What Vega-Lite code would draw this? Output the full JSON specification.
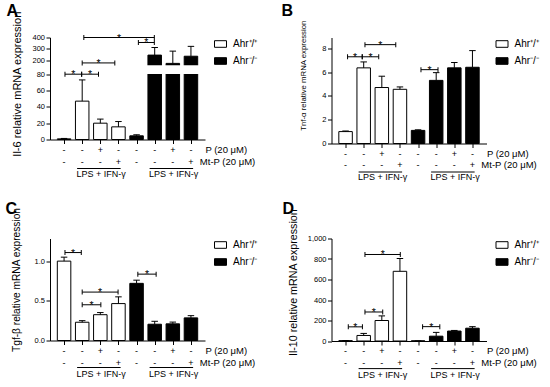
{
  "$schema": "https://vega.github.io/schema/vega-lite/v6.json",
  "padding": {"left": 5, "top": 2.5, "right": 5, "bottom": 5},
  "columns": 2,
  "spacing": {"row": 95, "column": 126.5},
  "bounds": "flush",
  "align": "all",
  "resolve": {"scale": {"fill": "independent", "x": "independent", "y": "independent"}, "legend": {"fill": "independent"}},
  "config": {
    "font": "Liberation Sans",
    "view": {"stroke": null},
    "axis": {"domainColor": "black", "tickColor": "black", "labelColor": "black", "titleColor": "black", "labelFontSize": 7.5, "tickSize": 4, "labelPadding": 1.5, "grid": false, "titleFontWeight": "normal", "labelOverlap": false, "domainWidth": 1, "tickWidth": 1, "tickCount": 10},
    "legend": {"orient": "right", "offset": 9, "padding": 0, "symbolType": "M-1,-0.55H1V0.55H-1Z", "symbolSize": 144, "symbolStrokeColor": "black", "symbolStrokeWidth": 1, "labelFontSize": 10, "labelOffset": 6, "rowPadding": 5, "labelColor": "black"},
    "title": {"anchor": "start", "frame": "group", "fontSize": 16, "fontWeight": "bold", "color": "black", "baseline": "alphabetic", "offset": 0}
  },
  "datasets": {
    "treat": [
      {"pos": 1, "p": "-", "m": "-"}, {"pos": 2, "p": "-", "m": "-"}, {"pos": 3, "p": "+", "m": "-"}, {"pos": 4, "p": "-", "m": "+"},
      {"pos": 5, "p": "-", "m": "-"}, {"pos": 6, "p": "-", "m": "-"}, {"pos": 7, "p": "+", "m": "-"}, {"pos": 8, "p": "-", "m": "+"}
    ],
    "lps": [
      {"x1": 1.72, "x2": 4.12, "xm": 3.05, "lab": "LPS + IFN-γ"},
      {"x1": 5.72, "x2": 8.12, "xm": 7.05, "lab": "LPS + IFN-γ"}
    ],
    "brk": [{"l": 0.3, "r": 8.7, "lo": 80.8, "hi": 155}],
    "a": [
      {"pos": 1, "g": "Ahr⁺/⁺", "mean": 0.8, "up": 1.3},
      {"pos": 2, "g": "Ahr⁺/⁺", "mean": 47, "up": 73},
      {"pos": 3, "g": "Ahr⁺/⁺", "mean": 20, "up": 25},
      {"pos": 4, "g": "Ahr⁺/⁺", "mean": 15.5, "up": 22},
      {"pos": 5, "g": "Ahr⁻/⁻", "mean": 4.5, "up": 5.8},
      {"pos": 6, "g": "Ahr⁻/⁻", "mean": 245, "up": 312},
      {"pos": 7, "g": "Ahr⁻/⁻", "mean": 172, "up": 280},
      {"pos": 8, "g": "Ahr⁻/⁻", "mean": 235, "up": 322}
    ],
    "aS": [
      {"x1": 1.05, "x2": 1.97, "xm": 1.51, "y": 80},
      {"x1": 1.97, "x2": 2.9, "xm": 2.44, "y": 80},
      {"x1": 2.0, "x2": 3.8, "xm": 2.9, "y": 176},
      {"x1": 5.1, "x2": 5.98, "xm": 5.54, "y": 356},
      {"x1": 2.09, "x2": 5.98, "xm": 4.03, "y": 400}
    ],
    "b": [
      {"pos": 1, "g": "Ahr⁺/⁺", "mean": 1.0, "up": 1.05},
      {"pos": 2, "g": "Ahr⁺/⁺", "mean": 6.35, "up": 6.85},
      {"pos": 3, "g": "Ahr⁺/⁺", "mean": 4.7, "up": 5.65},
      {"pos": 4, "g": "Ahr⁺/⁺", "mean": 4.55, "up": 4.75},
      {"pos": 5, "g": "Ahr⁻/⁻", "mean": 1.1, "up": 1.15},
      {"pos": 6, "g": "Ahr⁻/⁻", "mean": 5.3, "up": 5.95},
      {"pos": 7, "g": "Ahr⁻/⁻", "mean": 6.35, "up": 6.8},
      {"pos": 8, "g": "Ahr⁻/⁻", "mean": 6.4, "up": 7.8}
    ],
    "bS": [
      {"x1": 1.11, "x2": 1.92, "xm": 1.52, "y": 7.28},
      {"x1": 1.92, "x2": 2.83, "xm": 2.38, "y": 7.28},
      {"x1": 2.07, "x2": 3.77, "xm": 2.92, "y": 8.3},
      {"x1": 5.16, "x2": 6.1, "xm": 5.63, "y": 6.2}
    ],
    "c": [
      {"pos": 1, "g": "Ahr⁺/⁺", "mean": 1.0, "up": 1.05},
      {"pos": 2, "g": "Ahr⁺/⁺", "mean": 0.23, "up": 0.25},
      {"pos": 3, "g": "Ahr⁺/⁺", "mean": 0.325, "up": 0.352},
      {"pos": 4, "g": "Ahr⁺/⁺", "mean": 0.465, "up": 0.55},
      {"pos": 5, "g": "Ahr⁻/⁻", "mean": 0.72, "up": 0.76},
      {"pos": 6, "g": "Ahr⁻/⁻", "mean": 0.205, "up": 0.242},
      {"pos": 7, "g": "Ahr⁻/⁻", "mean": 0.21, "up": 0.232},
      {"pos": 8, "g": "Ahr⁻/⁻", "mean": 0.285, "up": 0.313}
    ],
    "cS": [
      {"x1": 1.05, "x2": 1.95, "xm": 1.5, "y": 1.108},
      {"x1": 2.0, "x2": 3.03, "xm": 2.52, "y": 0.45},
      {"x1": 2.0, "x2": 3.98, "xm": 2.99, "y": 0.61},
      {"x1": 5.07, "x2": 6.08, "xm": 5.58, "y": 0.836}
    ],
    "d": [
      {"pos": 1, "g": "Ahr⁺/⁺", "mean": 3, "up": 5},
      {"pos": 2, "g": "Ahr⁺/⁺", "mean": 54, "up": 74},
      {"pos": 3, "g": "Ahr⁺/⁺", "mean": 200, "up": 245},
      {"pos": 4, "g": "Ahr⁺/⁺", "mean": 680, "up": 805},
      {"pos": 5, "g": "Ahr⁻/⁻", "mean": 1, "up": 1},
      {"pos": 6, "g": "Ahr⁻/⁻", "mean": 47, "up": 84},
      {"pos": 7, "g": "Ahr⁻/⁻", "mean": 97, "up": 103},
      {"pos": 8, "g": "Ahr⁻/⁻", "mean": 125, "up": 140}
    ],
    "dS": [
      {"x1": 1.15, "x2": 1.93, "xm": 1.54, "y": 138},
      {"x1": 2.07, "x2": 3.05, "xm": 2.56, "y": 283},
      {"x1": 2.07, "x2": 4.02, "xm": 3.05, "y": 844},
      {"x1": 5.25, "x2": 6.2, "xm": 5.73, "y": 140}
    ]
  },
  "concat": [
    {
      "width": 155, "height": 102,
      "title": {"text": "A", "dx": -43.5, "dy": 12.2},
      "layer": [
        {"data": {"name": "a"}, "mark": {"type": "bar", "orient": "vertical", "width": 13.5, "stroke": "black", "strokeWidth": 1},
         "encoding": {
           "x": {"field": "pos", "type": "quantitative", "scale": {"domain": [0.5, 8.5], "nice": false, "zero": false}, "axis": {"values": [1, 2, 3, 4, 5, 6, 7, 8], "labels": false, "title": null, "tickSize": 4}},
           "y": {"field": "mean", "type": "quantitative", "scale": {"domain": [0, 80, 156, 400], "range": [102, 36.7, 27.7, 0], "nice": false, "zero": false}, "axis": {"values": [0, 20, 40, 60, 80, 200, 300, 400], "title": "Il-6 relative mRNA expression", "titleFontSize": 11, "titleX": -32.8, "titleY": 46.2, "titleBaseline": "middle"}},
           "fill": {"field": "g", "type": "nominal", "scale": {"domain": ["Ahr⁺/⁺", "Ahr⁻/⁻"], "range": ["white", "black"]}, "legend": {"title": null}}
         }},
        {"data": {"name": "a"}, "mark": {"type": "rule", "color": "black", "strokeWidth": 1},
         "encoding": {"x": {"field": "pos", "type": "quantitative"}, "y": {"field": "mean", "type": "quantitative"}, "y2": {"field": "up"}}},
        {"data": {"name": "a"}, "mark": {"type": "tick", "orient": "horizontal", "size": 6.5, "thickness": 1, "color": "black", "opacity": 1},
         "encoding": {"x": {"field": "pos", "type": "quantitative"}, "y": {"field": "up", "type": "quantitative"}}},
        {"data": {"name": "brk"}, "mark": {"type": "rect", "color": "white", "fill": "white", "opacity": 1},
         "encoding": {"x": {"field": "l", "type": "quantitative"}, "x2": {"field": "r"}, "y": {"field": "lo", "type": "quantitative"}, "y2": {"field": "hi"}}},
        {"data": {"name": "aS"}, "mark": {"type": "rule", "color": "black", "strokeWidth": 1},
         "encoding": {"x": {"field": "x1", "type": "quantitative"}, "x2": {"field": "x2"}, "y": {"field": "y", "type": "quantitative"}}},
        {"data": {"name": "aS"}, "mark": {"type": "tick", "orient": "vertical", "size": 5, "thickness": 1, "color": "black", "opacity": 1},
         "encoding": {"x": {"field": "x1", "type": "quantitative"}, "y": {"field": "y", "type": "quantitative"}}},
        {"data": {"name": "aS"}, "mark": {"type": "tick", "orient": "vertical", "size": 5, "thickness": 1, "color": "black", "opacity": 1},
         "encoding": {"x": {"field": "x2", "type": "quantitative"}, "y": {"field": "y", "type": "quantitative"}}},
        {"data": {"name": "aS"}, "mark": {"type": "text", "text": "*", "fontSize": 10.5, "baseline": "alphabetic", "dy": 4, "color": "black"},
         "encoding": {"x": {"field": "xm", "type": "quantitative"}, "y": {"field": "y", "type": "quantitative"}}},
        {"data": {"name": "treat"}, "mark": {"type": "text", "fontSize": 9, "baseline": "middle", "dy": 10.5, "color": "black"},
         "encoding": {"x": {"field": "pos", "type": "quantitative"}, "y": {"datum": 0, "type": "quantitative"}, "text": {"field": "p"}}},
        {"data": {"name": "treat"}, "mark": {"type": "text", "fontSize": 9, "baseline": "middle", "dy": 22, "color": "black"},
         "encoding": {"x": {"field": "pos", "type": "quantitative"}, "y": {"datum": 0, "type": "quantitative"}, "text": {"field": "m"}}},
        {"data": {"values": [{}]}, "mark": {"type": "text", "text": "P (20 μM)", "fontSize": 9.5, "align": "right", "baseline": "middle", "dy": 10.5, "color": "black"},
         "encoding": {"x": {"datum": 11.1, "type": "quantitative"}, "y": {"datum": 0, "type": "quantitative"}}},
        {"data": {"values": [{}]}, "mark": {"type": "text", "text": "Mt-P (20 μM)", "fontSize": 9.5, "align": "right", "baseline": "middle", "dy": 22, "color": "black"},
         "encoding": {"x": {"datum": 11.55, "type": "quantitative"}, "y": {"datum": 0, "type": "quantitative"}}},
        {"data": {"name": "lps"}, "mark": {"type": "rule", "color": "black", "strokeWidth": 1, "yOffset": 29},
         "encoding": {"x": {"field": "x1", "type": "quantitative"}, "x2": {"field": "x2"}, "y": {"datum": 0, "type": "quantitative"}}},
        {"data": {"name": "lps"}, "mark": {"type": "text", "fontSize": 9, "baseline": "middle", "dy": 34.5, "color": "black"},
         "encoding": {"x": {"field": "xm", "type": "quantitative"}, "y": {"datum": 0, "type": "quantitative"}, "text": {"field": "lab"}}}
      ]
    },
    {
      "width": 155, "height": 106,
      "title": {"text": "B", "dx": -50, "dy": 3},
      "layer": [
        {"data": {"name": "b"}, "mark": {"type": "bar", "orient": "vertical", "width": 13.5, "stroke": "black", "strokeWidth": 1},
         "encoding": {
           "x": {"field": "pos", "type": "quantitative", "scale": {"domain": [0.5, 8.5], "nice": false, "zero": false}, "axis": {"values": [1, 2, 3, 4, 5, 6, 7, 8], "labels": false, "title": null, "tickSize": 4}},
           "y": {"field": "mean", "type": "quantitative", "scale": {"domain": [0, 8.9], "nice": false, "zero": false}, "axis": {"values": [0, 2, 4, 6, 8], "title": "Tnf-α relative mRNA expression", "titleFontSize": 7.8, "titleX": -28.3, "titleY": 37.7, "titleBaseline": "middle"}},
           "fill": {"field": "g", "type": "nominal", "scale": {"domain": ["Ahr⁺/⁺", "Ahr⁻/⁻"], "range": ["white", "black"]}, "legend": {"title": null}}
         }},
        {"data": {"name": "b"}, "mark": {"type": "rule", "color": "black", "strokeWidth": 1},
         "encoding": {"x": {"field": "pos", "type": "quantitative"}, "y": {"field": "mean", "type": "quantitative"}, "y2": {"field": "up"}}},
        {"data": {"name": "b"}, "mark": {"type": "tick", "orient": "horizontal", "size": 6.5, "thickness": 1, "color": "black", "opacity": 1},
         "encoding": {"x": {"field": "pos", "type": "quantitative"}, "y": {"field": "up", "type": "quantitative"}}},
        {"data": {"name": "bS"}, "mark": {"type": "rule", "color": "black", "strokeWidth": 1},
         "encoding": {"x": {"field": "x1", "type": "quantitative"}, "x2": {"field": "x2"}, "y": {"field": "y", "type": "quantitative"}}},
        {"data": {"name": "bS"}, "mark": {"type": "tick", "orient": "vertical", "size": 5, "thickness": 1, "color": "black", "opacity": 1},
         "encoding": {"x": {"field": "x1", "type": "quantitative"}, "y": {"field": "y", "type": "quantitative"}}},
        {"data": {"name": "bS"}, "mark": {"type": "tick", "orient": "vertical", "size": 5, "thickness": 1, "color": "black", "opacity": 1},
         "encoding": {"x": {"field": "x2", "type": "quantitative"}, "y": {"field": "y", "type": "quantitative"}}},
        {"data": {"name": "bS"}, "mark": {"type": "text", "text": "*", "fontSize": 10.5, "baseline": "alphabetic", "dy": 4, "color": "black"},
         "encoding": {"x": {"field": "xm", "type": "quantitative"}, "y": {"field": "y", "type": "quantitative"}}},
        {"data": {"name": "treat"}, "mark": {"type": "text", "fontSize": 9, "baseline": "middle", "dy": 10, "color": "black"},
         "encoding": {"x": {"field": "pos", "type": "quantitative"}, "y": {"datum": 0, "type": "quantitative"}, "text": {"field": "p"}}},
        {"data": {"name": "treat"}, "mark": {"type": "text", "fontSize": 9, "baseline": "middle", "dy": 21, "color": "black"},
         "encoding": {"x": {"field": "pos", "type": "quantitative"}, "y": {"datum": 0, "type": "quantitative"}, "text": {"field": "m"}}},
        {"data": {"values": [{}]}, "mark": {"type": "text", "text": "P (20 μM)", "fontSize": 9.5, "align": "right", "baseline": "middle", "dy": 10, "color": "black"},
         "encoding": {"x": {"datum": 11.1, "type": "quantitative"}, "y": {"datum": 0, "type": "quantitative"}}},
        {"data": {"values": [{}]}, "mark": {"type": "text", "text": "Mt-P (20 μM)", "fontSize": 9.5, "align": "right", "baseline": "middle", "dy": 21, "color": "black"},
         "encoding": {"x": {"datum": 11.55, "type": "quantitative"}, "y": {"datum": 0, "type": "quantitative"}}},
        {"data": {"name": "lps"}, "mark": {"type": "rule", "color": "black", "strokeWidth": 1, "yOffset": 28.5},
         "encoding": {"x": {"field": "x1", "type": "quantitative"}, "x2": {"field": "x2"}, "y": {"datum": 0, "type": "quantitative"}}},
        {"data": {"name": "lps"}, "mark": {"type": "text", "fontSize": 9, "baseline": "middle", "dy": 33.5, "color": "black"},
         "encoding": {"x": {"field": "xm", "type": "quantitative"}, "y": {"datum": 0, "type": "quantitative"}, "text": {"field": "lab"}}}
      ]
    },
    {
      "width": 155, "height": 102,
      "title": {"text": "C", "dx": -44.5, "dy": 13.6},
      "layer": [
        {"data": {"name": "c"}, "mark": {"type": "bar", "orient": "vertical", "width": 13.5, "stroke": "black", "strokeWidth": 1},
         "encoding": {
           "x": {"field": "pos", "type": "quantitative", "scale": {"domain": [0.5, 8.5], "nice": false, "zero": false}, "axis": {"values": [1, 2, 3, 4, 5, 6, 7, 8], "labels": false, "title": null, "tickSize": 4}},
           "y": {"field": "mean", "type": "quantitative", "scale": {"domain": [0, 1.285], "nice": false, "zero": false}, "axis": {"values": [0, 0.5, 1], "format": ".1f", "title": "Tgf-β relative mRNA expression", "titleFontSize": 10.2, "titleX": -33.1, "titleY": 41, "titleBaseline": "middle"}},
           "fill": {"field": "g", "type": "nominal", "scale": {"domain": ["Ahr⁺/⁺", "Ahr⁻/⁻"], "range": ["white", "black"]}, "legend": {"title": null}}
         }},
        {"data": {"name": "c"}, "mark": {"type": "rule", "color": "black", "strokeWidth": 1},
         "encoding": {"x": {"field": "pos", "type": "quantitative"}, "y": {"field": "mean", "type": "quantitative"}, "y2": {"field": "up"}}},
        {"data": {"name": "c"}, "mark": {"type": "tick", "orient": "horizontal", "size": 6.5, "thickness": 1, "color": "black", "opacity": 1},
         "encoding": {"x": {"field": "pos", "type": "quantitative"}, "y": {"field": "up", "type": "quantitative"}}},
        {"data": {"name": "cS"}, "mark": {"type": "rule", "color": "black", "strokeWidth": 1},
         "encoding": {"x": {"field": "x1", "type": "quantitative"}, "x2": {"field": "x2"}, "y": {"field": "y", "type": "quantitative"}}},
        {"data": {"name": "cS"}, "mark": {"type": "tick", "orient": "vertical", "size": 5, "thickness": 1, "color": "black", "opacity": 1},
         "encoding": {"x": {"field": "x1", "type": "quantitative"}, "y": {"field": "y", "type": "quantitative"}}},
        {"data": {"name": "cS"}, "mark": {"type": "tick", "orient": "vertical", "size": 5, "thickness": 1, "color": "black", "opacity": 1},
         "encoding": {"x": {"field": "x2", "type": "quantitative"}, "y": {"field": "y", "type": "quantitative"}}},
        {"data": {"name": "cS"}, "mark": {"type": "text", "text": "*", "fontSize": 10.5, "baseline": "alphabetic", "dy": 4, "color": "black"},
         "encoding": {"x": {"field": "xm", "type": "quantitative"}, "y": {"field": "y", "type": "quantitative"}}},
        {"data": {"name": "treat"}, "mark": {"type": "text", "fontSize": 9, "baseline": "middle", "dy": 10.5, "color": "black"},
         "encoding": {"x": {"field": "pos", "type": "quantitative"}, "y": {"datum": 0, "type": "quantitative"}, "text": {"field": "p"}}},
        {"data": {"name": "treat"}, "mark": {"type": "text", "fontSize": 9, "baseline": "middle", "dy": 22.5, "color": "black"},
         "encoding": {"x": {"field": "pos", "type": "quantitative"}, "y": {"datum": 0, "type": "quantitative"}, "text": {"field": "m"}}},
        {"data": {"values": [{}]}, "mark": {"type": "text", "text": "P (20 μM)", "fontSize": 9.5, "align": "right", "baseline": "middle", "dy": 10.5, "color": "black"},
         "encoding": {"x": {"datum": 11.1, "type": "quantitative"}, "y": {"datum": 0, "type": "quantitative"}}},
        {"data": {"values": [{}]}, "mark": {"type": "text", "text": "Mt-P (20 μM)", "fontSize": 9.5, "align": "right", "baseline": "middle", "dy": 22.5, "color": "black"},
         "encoding": {"x": {"datum": 11.55, "type": "quantitative"}, "y": {"datum": 0, "type": "quantitative"}}},
        {"data": {"name": "lps"}, "mark": {"type": "rule", "color": "black", "strokeWidth": 1, "yOffset": 27},
         "encoding": {"x": {"field": "x1", "type": "quantitative"}, "x2": {"field": "x2"}, "y": {"datum": 0, "type": "quantitative"}}},
        {"data": {"name": "lps"}, "mark": {"type": "text", "fontSize": 9, "baseline": "middle", "dy": 33, "color": "black"},
         "encoding": {"x": {"field": "xm", "type": "quantitative"}, "y": {"datum": 0, "type": "quantitative"}, "text": {"field": "lab"}}}
      ]
    },
    {
      "width": 155, "height": 102.5,
      "title": {"text": "D", "dx": -49, "dy": 12.5},
      "layer": [
        {"data": {"name": "d"}, "mark": {"type": "bar", "orient": "vertical", "width": 13.5, "stroke": "black", "strokeWidth": 1},
         "encoding": {
           "x": {"field": "pos", "type": "quantitative", "scale": {"domain": [0.5, 8.5], "nice": false, "zero": false}, "axis": {"values": [1, 2, 3, 4, 5, 6, 7, 8], "labels": false, "title": null, "tickSize": 4}},
           "y": {"field": "mean", "type": "quantitative", "scale": {"domain": [0, 1000], "nice": false, "zero": false}, "axis": {"values": [0, 200, 400, 600, 800, 1000], "title": "Il-10 relative mRNA expression", "titleFontSize": 10.7, "titleX": -38.3, "titleY": 43.7, "titleBaseline": "middle"}},
           "fill": {"field": "g", "type": "nominal", "scale": {"domain": ["Ahr⁺/⁺", "Ahr⁻/⁻"], "range": ["white", "black"]}, "legend": {"title": null}}
         }},
        {"data": {"name": "d"}, "mark": {"type": "rule", "color": "black", "strokeWidth": 1},
         "encoding": {"x": {"field": "pos", "type": "quantitative"}, "y": {"field": "mean", "type": "quantitative"}, "y2": {"field": "up"}}},
        {"data": {"name": "d"}, "mark": {"type": "tick", "orient": "horizontal", "size": 6.5, "thickness": 1, "color": "black", "opacity": 1},
         "encoding": {"x": {"field": "pos", "type": "quantitative"}, "y": {"field": "up", "type": "quantitative"}}},
        {"data": {"name": "dS"}, "mark": {"type": "rule", "color": "black", "strokeWidth": 1},
         "encoding": {"x": {"field": "x1", "type": "quantitative"}, "x2": {"field": "x2"}, "y": {"field": "y", "type": "quantitative"}}},
        {"data": {"name": "dS"}, "mark": {"type": "tick", "orient": "vertical", "size": 5, "thickness": 1, "color": "black", "opacity": 1},
         "encoding": {"x": {"field": "x1", "type": "quantitative"}, "y": {"field": "y", "type": "quantitative"}}},
        {"data": {"name": "dS"}, "mark": {"type": "tick", "orient": "vertical", "size": 5, "thickness": 1, "color": "black", "opacity": 1},
         "encoding": {"x": {"field": "x2", "type": "quantitative"}, "y": {"field": "y", "type": "quantitative"}}},
        {"data": {"name": "dS"}, "mark": {"type": "text", "text": "*", "fontSize": 10.5, "baseline": "alphabetic", "dy": 4, "color": "black"},
         "encoding": {"x": {"field": "xm", "type": "quantitative"}, "y": {"field": "y", "type": "quantitative"}}},
        {"data": {"name": "treat"}, "mark": {"type": "text", "fontSize": 9, "baseline": "middle", "dy": 10.3, "color": "black"},
         "encoding": {"x": {"field": "pos", "type": "quantitative"}, "y": {"datum": 0, "type": "quantitative"}, "text": {"field": "p"}}},
        {"data": {"name": "treat"}, "mark": {"type": "text", "fontSize": 9, "baseline": "middle", "dy": 21.5, "color": "black"},
         "encoding": {"x": {"field": "pos", "type": "quantitative"}, "y": {"datum": 0, "type": "quantitative"}, "text": {"field": "m"}}},
        {"data": {"values": [{}]}, "mark": {"type": "text", "text": "P (20 μM)", "fontSize": 9.5, "align": "right", "baseline": "middle", "dy": 10.3, "color": "black"},
         "encoding": {"x": {"datum": 11.1, "type": "quantitative"}, "y": {"datum": 0, "type": "quantitative"}}},
        {"data": {"values": [{}]}, "mark": {"type": "text", "text": "Mt-P (20 μM)", "fontSize": 9.5, "align": "right", "baseline": "middle", "dy": 21.5, "color": "black"},
         "encoding": {"x": {"datum": 11.55, "type": "quantitative"}, "y": {"datum": 0, "type": "quantitative"}}},
        {"data": {"name": "lps"}, "mark": {"type": "rule", "color": "black", "strokeWidth": 1, "yOffset": 27.6},
         "encoding": {"x": {"field": "x1", "type": "quantitative"}, "x2": {"field": "x2"}, "y": {"datum": 0, "type": "quantitative"}}},
        {"data": {"name": "lps"}, "mark": {"type": "text", "fontSize": 9, "baseline": "middle", "dy": 34, "color": "black"},
         "encoding": {"x": {"field": "xm", "type": "quantitative"}, "y": {"datum": 0, "type": "quantitative"}, "text": {"field": "lab"}}}
      ]
    }
  ]
}
